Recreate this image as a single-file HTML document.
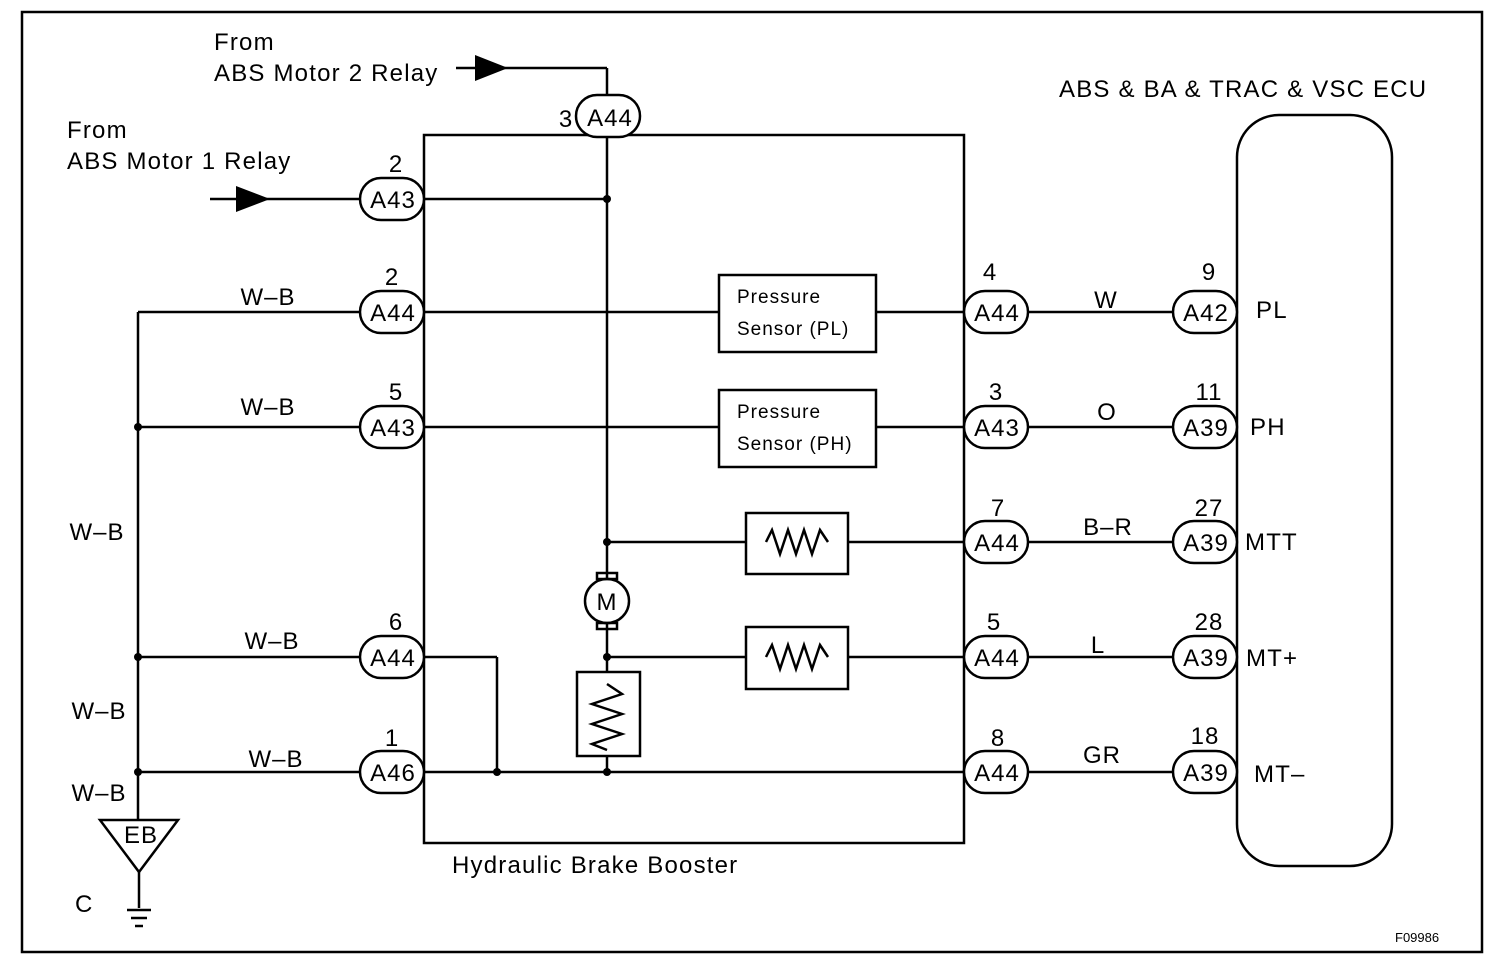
<!DOCTYPE html>
<html><head><style>body{margin:0;background:#fff}svg{display:block}text{font-family:"Liberation Sans",sans-serif;fill:#000}</style></head><body>
<svg width="1504" height="972" viewBox="0 0 1504 972" xmlns="http://www.w3.org/2000/svg">
<g fill="none" stroke="#000" stroke-width="2.5">
<rect x="22" y="12" width="1460" height="940"/>
<rect x="424" y="135" width="540" height="708"/>
<rect x="1237" y="115" width="155" height="751" rx="42"/>
<line x1="210" y1="199" x2="360" y2="199"/>
<line x1="424" y1="199" x2="607" y2="199"/>
<line x1="456" y1="68" x2="607" y2="68"/>
<line x1="607" y1="68" x2="607" y2="95"/>
<line x1="607" y1="137" x2="607" y2="579"/>
<line x1="607" y1="623" x2="607" y2="672"/>
<line x1="607" y1="756" x2="607" y2="772"/>
<line x1="138" y1="312" x2="360" y2="312"/>
<line x1="138" y1="427" x2="360" y2="427"/>
<line x1="138" y1="657" x2="360" y2="657"/>
<line x1="138" y1="772" x2="964" y2="772"/>
<line x1="138" y1="312" x2="138" y2="820"/>
<line x1="424" y1="657" x2="497" y2="657"/>
<line x1="497" y1="657" x2="497" y2="772"/>
<line x1="424" y1="312" x2="719" y2="312"/>
<line x1="876" y1="312" x2="964" y2="312"/>
<line x1="424" y1="427" x2="719" y2="427"/>
<line x1="876" y1="427" x2="964" y2="427"/>
<line x1="607" y1="542" x2="746" y2="542"/>
<line x1="848" y1="542" x2="964" y2="542"/>
<line x1="607" y1="657" x2="746" y2="657"/>
<line x1="848" y1="657" x2="964" y2="657"/>
<line x1="1028" y1="312" x2="1173" y2="312"/>
<line x1="1028" y1="427" x2="1173" y2="427"/>
<line x1="1028" y1="542" x2="1173" y2="542"/>
<line x1="1028" y1="657" x2="1173" y2="657"/>
<line x1="1028" y1="772" x2="1173" y2="772"/>
<rect x="719" y="275" width="157" height="77"/>
<rect x="719" y="390" width="157" height="77"/>
<rect x="746" y="513" width="102" height="61"/>
<rect x="746" y="627" width="102" height="62"/>
<polyline points="766,542 772,530 780,554 788,530 796,554 804,530 812,554 820,530 828,542"/>
<polyline points="766,657 772,645 780,669 788,645 796,669 804,645 812,669 820,645 828,657"/>
<rect x="577" y="672" width="63" height="84"/>
<polyline points="607,684 622,694 592,704 622,714 592,724 622,734 592,744 607,750"/>
<circle cx="607" cy="601" r="22"/>
<rect x="597" y="573" width="20" height="6"/>
<rect x="597" y="623" width="20" height="6"/>
<polygon points="100,820 178,820 139,872"/>
<line x1="139" y1="872" x2="139" y2="908"/>
<line x1="127" y1="910" x2="151" y2="910"/>
<line x1="131" y1="918" x2="147" y2="918"/>
<line x1="135" y1="926" x2="143" y2="926"/>
<g fill="#fff">
<rect x="360" y="178" width="64" height="42" rx="21"/>
<rect x="360" y="291" width="64" height="42" rx="21"/>
<rect x="360" y="406" width="64" height="42" rx="21"/>
<rect x="360" y="636" width="64" height="42" rx="21"/>
<rect x="360" y="751" width="64" height="42" rx="21"/>
<rect x="576" y="95" width="64" height="42" rx="21"/>
<rect x="964" y="291" width="64" height="42" rx="21"/>
<rect x="964" y="406" width="64" height="42" rx="21"/>
<rect x="964" y="521" width="64" height="42" rx="21"/>
<rect x="964" y="636" width="64" height="42" rx="21"/>
<rect x="964" y="751" width="64" height="42" rx="21"/>
<rect x="1173" y="291" width="64" height="42" rx="21"/>
<rect x="1173" y="406" width="64" height="42" rx="21"/>
<rect x="1173" y="521" width="64" height="42" rx="21"/>
<rect x="1173" y="636" width="64" height="42" rx="21"/>
<rect x="1173" y="751" width="64" height="42" rx="21"/>
</g>
</g>
<g fill="#000">
<polygon points="236,186 270,199 236,212"/>
<polygon points="475,55 508,68 475,81"/>
<circle cx="607" cy="199" r="4"/><circle cx="607" cy="542" r="4"/><circle cx="607" cy="657" r="4"/>
<circle cx="607" cy="772" r="4"/><circle cx="497" cy="772" r="4"/>
<circle cx="138" cy="427" r="4"/><circle cx="138" cy="657" r="4"/><circle cx="138" cy="772" r="4"/>
</g>
<g font-size="24" text-anchor="middle" letter-spacing="1">
<text x="393" y="208">A43</text><text x="393" y="321">A44</text><text x="393" y="436">A43</text>
<text x="393" y="666">A44</text><text x="393" y="781">A46</text><text x="610" y="126">A44</text>
<text x="997" y="321">A44</text><text x="997" y="436">A43</text><text x="997" y="551">A44</text>
<text x="997" y="666">A44</text><text x="997" y="781">A44</text>
<text x="1206" y="321">A42</text><text x="1206" y="436">A39</text><text x="1206" y="551">A39</text>
<text x="1206" y="666">A39</text><text x="1206" y="781">A39</text>
<text x="396" y="172">2</text><text x="392" y="285">2</text><text x="396" y="400">5</text>
<text x="396" y="630">6</text><text x="392" y="746">1</text><text x="566" y="127">3</text>
<text x="990" y="280">4</text><text x="996" y="400">3</text><text x="998" y="516">7</text>
<text x="994" y="630">5</text><text x="998" y="746">8</text>
<text x="1209" y="280">9</text><text x="1209" y="400">11</text><text x="1209" y="516">27</text>
<text x="1209" y="630">28</text><text x="1205" y="744">18</text>
<text x="1106" y="308">W</text><text x="1107" y="420">O</text><text x="1108" y="535">B–R</text>
<text x="1098" y="653">L</text><text x="1102" y="763">GR</text>
<text x="268" y="305">W–B</text><text x="268" y="415">W–B</text><text x="272" y="649">W–B</text>
<text x="276" y="767">W–B</text><text x="97" y="540">W–B</text><text x="99" y="719">W–B</text><text x="99" y="801">W–B</text>
<text x="607" y="610">M</text><text x="141" y="843">EB</text>
</g>
<g font-size="24" letter-spacing="1.2">
<text x="214" y="50">From</text><text x="214" y="81">ABS Motor 2 Relay</text>
<text x="67" y="138">From</text><text x="67" y="169">ABS Motor 1 Relay</text>
<text x="1059" y="97">ABS &amp; BA &amp; TRAC &amp; VSC ECU</text>
<text x="1256" y="318">PL</text><text x="1250" y="435">PH</text><text x="1245" y="550">MTT</text>
<text x="1246" y="666">MT+</text><text x="1254" y="782">MT–</text>
<text x="452" y="873">Hydraulic Brake Booster</text>
<text x="75" y="912">C</text>
</g>
<g font-size="19" letter-spacing="1">
<text x="737" y="303">Pressure</text><text x="737" y="335">Sensor (PL)</text>
<text x="737" y="418">Pressure</text><text x="737" y="450">Sensor (PH)</text>
</g>
<text x="1395" y="942" font-size="13">F09986</text>
</svg>
</body></html>
